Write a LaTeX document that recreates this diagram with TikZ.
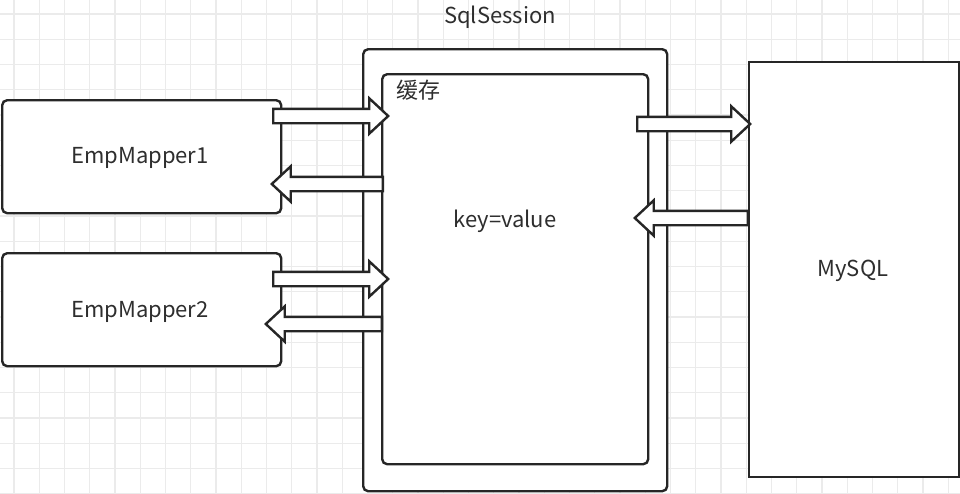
\documentclass[tikz,border=0pt]{standalone}
\usepackage{fontspec}
\setmainfont{Noto Sans CJK SC}
\usetikzlibrary{shapes.arrows}
\definecolor{ln}{HTML}{262626}
\definecolor{gridc}{HTML}{EBEBEB}
\definecolor{txt}{HTML}{2E2E2E}
\tikzset{
  box/.style={draw=ln, line width=2.4pt, fill=white, rounded corners=5pt, inner sep=0pt},
  sqbox/.style={draw=ln, line width=2.4pt, fill=white, inner sep=0pt},
  lbl/.style={text=txt, font=\fontsize{22}{25}\selectfont, inner sep=0pt},
  barrow/.style={single arrow, draw=ln, fill=white, line width=2.4pt, inner xsep=0pt, inner ysep=6pt,
     single arrow head extend=10.5pt, single arrow tip angle=86, minimum width=34pt},
  larrow/.style={barrow, shape border rotate=180}
}
\begin{document}
\begin{tikzpicture}[x=1pt,y=-1pt]
\useasboundingbox (0,0) rectangle (960,493);
\fill[white] (0,0) rectangle (960,493);
% grid
\foreach \i in {0,...,37} {
  \draw[gridc, line width=1.2pt] ({14+25.25*\i},0) -- ({14+25.25*\i},493);
}
\foreach \j in {0,...,19} {
  \draw[gridc, line width=1.2pt] (0,{14+25.25*\j}) -- (960,{14+25.25*\j});
}
% boxes
\node[box, minimum width=279pt, minimum height=113pt, anchor=north west] (m1) at (1,99) {};
\node[lbl] at (140,158) {EmpMapper1};
\node[box, minimum width=279pt, minimum height=113pt, anchor=north west] (m2) at (1,252) {};
\node[lbl] at (140,312) {EmpMapper2};
\node[box, minimum width=304pt, minimum height=442pt, anchor=north west] (sess) at (362,48) {};
\node[lbl] (sesslbl) at (500,17) {SqlSession};
\node[box, minimum width=266pt, minimum height=390pt, anchor=north west] (cache) at (381,73) {};
\node[lbl, anchor=west] (cachelbl) at (396,90) {缓存};
\node[lbl] (kv) at (505,221) {key=value};
\node[sqbox, minimum width=210pt, minimum height=415pt, anchor=north west] (db) at (748,61) {};
\node[lbl] at (853,271) {MySQL};
% block arrows
\node[barrow, minimum height=115pt, anchor=tail] (a1) at (272,116) {};
\node[larrow, minimum height=111pt, anchor=tail] (a2) at (384,184) {};
\node[barrow, minimum height=115pt, anchor=tail] (a3) at (272,279) {};
\node[larrow, minimum height=116pt, anchor=tail] (a4) at (383,324) {};
\node[barrow, minimum height=113pt, anchor=tail] (a5) at (636,124) {};
\node[larrow, minimum height=113pt, anchor=tail] (a6) at (749,218) {};
\end{tikzpicture}
\end{document}
